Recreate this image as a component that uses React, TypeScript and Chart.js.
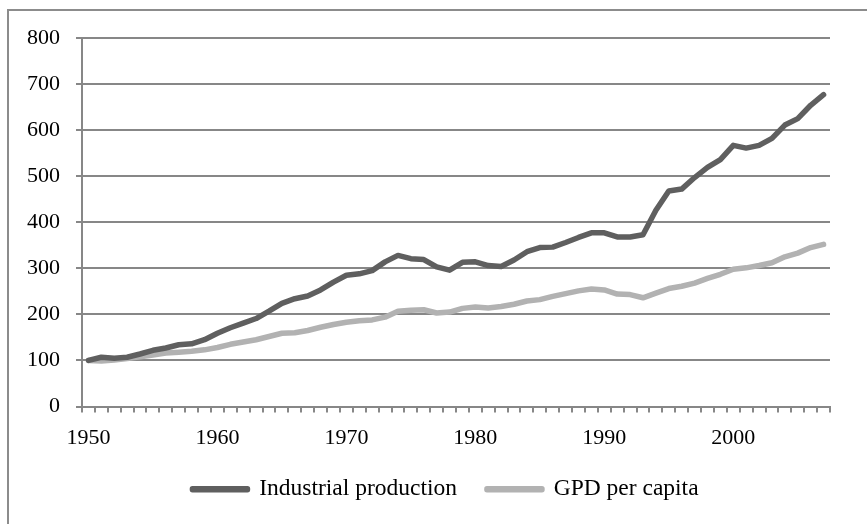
import React, { useEffect, useRef } from "react";
import { Chart, registerables } from "chart.js";

Chart.register(...registerables);

const years = [
  "1950", "1951", "1952", "1953", "1954", "1955", "1956", "1957", "1958", "1959",
  "1960", "1961", "1962", "1963", "1964", "1965", "1966", "1967", "1968", "1969",
  "1970", "1971", "1972", "1973", "1974", "1975", "1976", "1977", "1978", "1979",
  "1980", "1981", "1982", "1983", "1984", "1985", "1986", "1987", "1988", "1989",
  "1990", "1991", "1992", "1993", "1994", "1995", "1996", "1997", "1998", "1999",
  "2000", "2001", "2002", "2003", "2004", "2005", "2006", "2007",
];

const industrialProduction = [
  100, 107, 105, 107, 114, 122, 127, 134, 136, 145,
  159, 171, 181, 191, 207, 224, 234, 240, 253, 270,
  285, 288, 295, 314, 328, 321, 319, 303, 296, 313,
  314, 306, 304, 318, 336, 345, 346, 356, 367, 377,
  377, 368, 368, 373, 426, 468, 472, 497, 519, 536,
  567, 561, 567, 582, 611, 625, 654, 677,
];

const gdpPerCapita = [
  100, 99, 101, 104, 108, 112, 116, 118, 120, 123,
  128, 135, 140, 145, 152, 159, 160, 165, 172, 178,
  183, 186, 188, 194, 207, 209, 210, 203, 205, 213,
  216, 214, 217, 222, 229, 232, 239, 245, 251, 255,
  253, 244, 243, 236, 246, 256, 261, 268, 278, 287,
  298, 301, 306, 312, 325, 333, 345, 352,
];

const yMin = 0;
const yMax = 800;
const yStep = 100;

const FONT = "'Liberation Serif', 'Times New Roman', serif";
const DARK = "#5f5f5f";
const LIGHT = "#b2b2b2";
const AXIS = "#878787";

export default function App() {
  const canvasRef = useRef<HTMLCanvasElement | null>(null);

  useEffect(() => {
    const canvas = canvasRef.current;
    if (!canvas) return;
    const chart = new Chart(canvas, {
      type: "line",
      data: {
        labels: years,
        datasets: [
          {
            label: "Industrial production",
            data: industrialProduction,
            borderColor: DARK,
            backgroundColor: DARK,
            borderWidth: 5.5,
            pointRadius: 0,
            tension: 0,
            borderCapStyle: "round",
            borderJoinStyle: "round",
          },
          {
            label: "GPD per capita",
            data: gdpPerCapita,
            borderColor: LIGHT,
            backgroundColor: LIGHT,
            borderWidth: 5.5,
            pointRadius: 0,
            tension: 0,
            borderCapStyle: "round",
            borderJoinStyle: "round",
          },
        ],
      },
      options: {
        responsive: false,
        animation: false,
        layout: { padding: { top: 38, left: 24, right: 0, bottom: 13 } },
        font: { family: FONT },
        plugins: {
          tooltip: { enabled: false },
          legend: {
            position: "bottom",
            labels: {
              boxWidth: 55,
              boxHeight: 1,
              padding: 30,
              color: "#000",
              font: { family: FONT, size: 23.5 },
            },
          },
        },
        scales: {
          x: {
            type: "category",
            offset: true,
            grid: {
              offset: true,
              drawOnChartArea: false,
              drawTicks: true,
              tickLength: 6,
              color: AXIS,
              lineWidth: 2,
            },
            border: { display: true, color: AXIS, width: 2 },
            ticks: {
              autoSkip: false,
              maxRotation: 0,
              minRotation: 0,
              padding: 13,
              color: "#000",
              font: { family: FONT, size: 22 },
              callback: (_v: any, i: number) => (Number(years[i]) % 10 === 0 ? years[i] : ""),
            },
            afterFit: (scale: any) => {
              scale.height = 41;
            },
          },
          y: {
            min: yMin,
            max: yMax,
            ticks: {
              stepSize: yStep,
              padding: 16,
              color: "#000",
              font: { family: FONT, size: 22 },
            },
            grid: {
              color: AXIS,
              lineWidth: 2,
              tickLength: 6,
              drawTicks: true,
            },
            border: { display: true, color: AXIS, width: 2 },
            afterFit: (scale: any) => {
              scale.width = 58;
            },
          },
          rightGap: {
            type: "linear",
            position: "right",
            display: true,
            grid: { display: false, drawTicks: false },
            border: { display: false },
            ticks: { display: false },
            afterFit: (scale: any) => {
              scale.width = 37;
            },
          },
        },
      },
    });
    return () => chart.destroy();
  }, []);

  return (
    <div style={{ position: "absolute", left: 0, top: 0, width: 867, height: 524, overflow: "hidden", background: "#fff" }}>
      <div
        style={{
          position: "absolute",
          left: 7,
          top: 9,
          width: 900,
          height: 560,
          borderLeft: "2px solid #8c8c8c",
          borderTop: "2px solid #8c8c8c",
          boxSizing: "border-box",
        }}
      />
      <canvas ref={canvasRef} width={867} height={524} style={{ position: "absolute", left: 0, top: 0 }} />
    </div>
  );
}
